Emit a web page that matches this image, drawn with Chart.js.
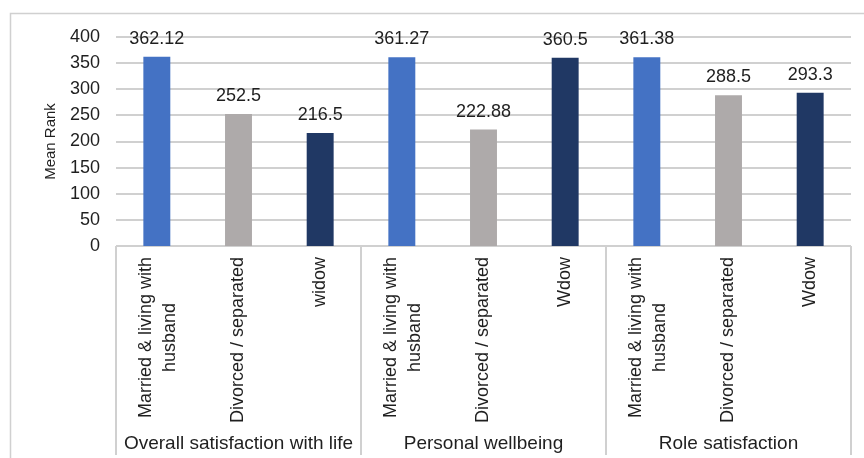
<!DOCTYPE html>
<html>
<head>
<meta charset="utf-8">
<script src="https://cdn.jsdelivr.net/npm/chart.js@4/dist/chart.umd.min.js"></script>
<style>
  html, body { margin: 0; padding: 0; background: #ffffff; }
  #wrap { width: 864px; height: 458px; }
</style>
</head>
<body>
<div id="wrap"><canvas id="chart" width="864" height="458"></canvas></div>
<script>
// Mean rank by marital status, for three wellbeing measures
const groupNames = ['Overall satisfaction with life', 'Personal wellbeing', 'Role satisfaction'];
const statusLabels = [
  ['Married & living with', 'husband'], ['Divorced / separated'], ['widow'],
  ['Married & living with', 'husband'], ['Divorced / separated'], ['Wdow'],
  ['Married & living with', 'husband'], ['Divorced / separated'], ['Wdow']
];
const overallLife = [362.12, 252.5, 216.5];
const personalWellbeing = [361.27, 222.88, 360.5];
const roleSatisfaction = [361.38, 288.5, 293.3];
const meanRanks = [...overallLife, ...personalWellbeing, ...roleSatisfaction];
const yTickValues = [0, 50, 100, 150, 200, 250, 300, 350, 400];

const FONT = '"Liberation Sans", Arial, sans-serif';
const TEXT = '#1f1f1f';
const LINE = '#d0d0d0';
const statusColors = ['#4472C4', '#AEAAAA', '#203864'];

const decorations = {
  id: 'decorations',
  beforeDraw(chart) {
    const ctx = chart.ctx;
    ctx.save();
    ctx.strokeStyle = LINE;
    ctx.lineWidth = 1.5;
    ctx.strokeRect(10.5, 13.5, 900, 500);
    ctx.restore();
  },
  beforeDatasetsDraw(chart) {
    // horizontal value gridlines, placed by the y scale
    const ctx = chart.ctx;
    const y = chart.scales.y;
    const area = chart.chartArea;
    ctx.save();
    ctx.fillStyle = LINE;
    yTickValues.forEach(v => {
      const py = Math.round(y.getPixelForValue(v));
      ctx.fillRect(area.left, py - 1, area.right - area.left, 2);
    });
    ctx.restore();
  },
  afterDraw(chart) {
    const ctx = chart.ctx;
    const x = chart.scales.x;
    const area = chart.chartArea;
    const meta = chart.getDatasetMeta(0);
    ctx.save();

    // group boxes under the axis
    ctx.fillStyle = LINE;
    const perGroup = statusLabels.length / groupNames.length;
    for (let g = 0; g <= groupNames.length; g++) {
      const px = Math.round(x.getPixelForValue(g * perGroup - 0.5));
      ctx.fillRect(px - 1, area.bottom, 2, 455 - area.bottom);
    }

    // value labels above bars
    ctx.fillStyle = TEXT;
    ctx.font = '18px ' + FONT;
    ctx.textAlign = 'center';
    ctx.textBaseline = 'alphabetic';
    meta.data.forEach((bar, i) => {
      ctx.fillText(String(meanRanks[i]), bar.x, bar.y - 13);
    });

    // rotated status labels
    const labelTop = 257;
    const lineGap = 24;
    statusLabels.forEach((lines, i) => {
      const cx = x.getPixelForValue(i);
      const w = Math.max(...lines.map(l => ctx.measureText(l).width));
      const n = lines.length;
      ctx.save();
      ctx.translate(cx, labelTop);
      ctx.rotate(-Math.PI / 2);
      ctx.textAlign = 'center';
      ctx.textBaseline = 'middle';
      lines.forEach((l, k) => {
        const off = (k - (n - 1) / 2) * lineGap + (n > 1 ? 1.5 : 0);
        ctx.fillText(l, -w / 2, off);
      });
      ctx.restore();
    });

    // group names
    ctx.font = '19px ' + FONT;
    ctx.textAlign = 'center';
    ctx.textBaseline = 'alphabetic';
    groupNames.forEach((name, g) => {
      const left = x.getPixelForValue(g * perGroup - 0.5);
      const right = x.getPixelForValue((g + 1) * perGroup - 0.5);
      ctx.fillText(name, (left + right) / 2, 449);
    });
    ctx.restore();
  }
};

new Chart(document.getElementById('chart'), {
  type: 'bar',
  data: {
    labels: statusLabels.map(l => l.join(' ')),
    datasets: [{
      data: meanRanks,
      backgroundColor: meanRanks.map((_, i) => statusColors[i % 3]),
      borderWidth: 0,
      barPercentage: 0.33,
      categoryPercentage: 1.0
    }]
  },
  options: {
    responsive: false,
    devicePixelRatio: 1,
    animation: false,
    layout: { padding: { left: 42, top: 37, right: 13, bottom: 0 } },
    plugins: { legend: { display: false }, tooltip: { enabled: false } },
    scales: {
      x: {
        offset: true,
        grid: { display: false },
        border: { display: false },
        ticks: { display: false },
        afterFit(scale) { scale.height = 212; }
      },
      y: {
        min: yTickValues[0],
        max: yTickValues[yTickValues.length - 1],
        grid: { display: false, drawTicks: false },
        border: { display: false },
        ticks: { stepSize: yTickValues[1] - yTickValues[0], color: TEXT, font: { family: FONT, size: 18 }, padding: 16 },
        title: { display: true, text: 'Mean Rank', color: TEXT, font: { family: FONT, size: 15 }, padding: 0 },
        afterFit(scale) { scale.width = 74; }
      }
    }
  },
  plugins: [decorations]
});
</script>
</body>
</html>
